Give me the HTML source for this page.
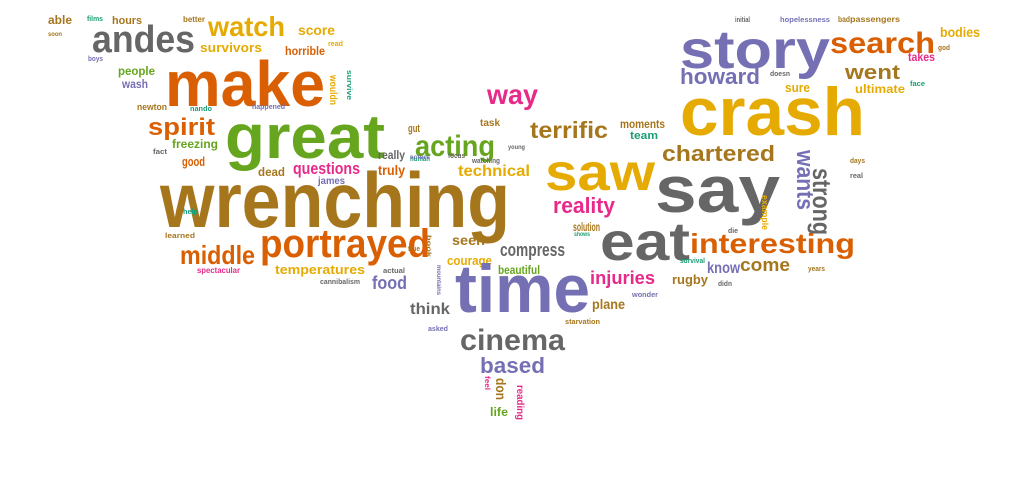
<!DOCTYPE html>
<html><head><meta charset="utf-8"><style>
html,body{margin:0;padding:0;background:#fff;width:1023px;height:504px;overflow:hidden}
svg text{font-family:"Liberation Sans",sans-serif;font-weight:bold}
</style></head><body>
<svg id="cloud" width="1023" height="504" viewBox="0 0 1023 504"></svg>
<script>
const palette = {br:"#A6761D",or:"#D95F02",gr:"#66A61E",pu:"#7570B3",gy:"#666666",go:"#E6AB02",pk:"#E7298A",te:"#1B9E77"};
const words = ["wrenching","make","great","andes","watch","score","survivors","horrible","hours","able","better","people","wash","newton","spirit","freezing","good","questions","dead","james","truly","really","acting","gut","way","task","terrific","technical","saw","reality","portrayed","middle","temperatures","seen","courage","compress","solution","beautiful","eat","time","food","think","cinema","based","injuries","plane","rugby","know","come","interesting","chartered","say","crash","story","search","howard","went","sure","moments","team","ultimate","takes","bodies","passengers","hopelessness","bad","initial","doesn","face","god","days","real","die","survival","years","didn","wonder","starvation","life","asked","cannibalism","actual","spectacular","learned","help","fact","watching","focus","human","young","happened","nando","read","boys","films","soon","shows","true","actors","strong","wants","example","reading","don","feel","wouldn","survive","book","mountains"];
const colors = ["br","or","gr","gy","go","go","go","or","br","br","br","gr","pu","br","or","gr","or","pk","br","pu","or","gy","gr","br","pk","br","br","go","go","pk","or","or","go","br","go","gy","br","gr","gy","pu","pu","gy","gy","pu","pk","br","br","pu","br","or","br","gy","go","pu","or","pu","br","go","br","te","go","pk","go","br","pu","br","gy","gy","te","br","br","gy","gy","te","br","gy","pu","br","gr","pu","gy","gy","pk","br","te","gy","gy","gy","te","gy","pu","te","go","pu","te","br","te","br","pu","gy","pu","go","pk","br","pk","go","te","br","pu"];
// layout: [x-left, baseline, width, fontSize, rotated]
const layout = [[160,227,350,78,0],[165,106,160,64,0],[225,158,160,62,0],[92,52,103,38,0],[208,36,77,28,0],[298,35,37,14,0],[200,52,62,13,0],[285,55,40,12,0],[112,24,30,11,0],[48,24,24,12,0],[183,22,22,8,0],[118,75,37,12,0],[122,88,26,12,0],[137,110,30,9,0],[148,135,67,24,0],[172,148,46,12,0],[182,166,23,13,0],[293,174,67,17,0],[258,176,27,12,0],[318,184,27,10,0],[378,175,27,14,0],[378,159,27,12,0],[415,156,80,30,0],[408,132,12,11,0],[487,104,51,28,0],[480,126,20,10,0],[530,138,78,23,0],[458,176,72,16,0],[545,190,110,52,0],[553,213,62,22,0],[260,257,170,40,0],[180,264,75,26,0],[275,274,90,13,0],[452,245,33,14,0],[447,265,45,13,0],[500,256,65,18,0],[573,231,27,12,0],[498,274,42,12,0],[600,260,90,54,0],[455,312,135,68,0],[372,289,35,18,0],[410,314,40,16,0],[460,350,105,30,0],[480,373,65,22,0],[590,284,65,18,0],[592,309,33,14,0],[672,284,36,13,0],[707,273,33,16,0],[740,271,50,18,0],[690,253,165,28,0],[662,161,113,22,0],[655,212,125,66,0],[680,135,185,68,0],[680,68,150,54,0],[830,53,105,30,0],[680,84,80,22,0],[845,79,55,20,0],[785,92,25,13,0],[620,128,45,12,0],[630,139,28,11,0],[855,93,50,12,0],[908,61,27,12,0],[940,37,40,14,0],[850,22,50,8,0],[780,22,50,7,0],[838,22,12,8,0],[735,22,15,7,0],[770,76,20,7,0],[910,86,15,7,0],[938,50,12,7,0],[850,163,15,7,0],[850,178,13,7,0],[728,233,10,7,0],[680,263,25,7,0],[808,271,17,7,0],[718,286,14,7,0],[632,297,26,7,0],[565,324,35,7,0],[490,416,18,12,0],[428,331,20,7,0],[320,284,40,7,0],[383,273,22,7,0],[197,273,43,8,0],[165,238,30,7,0],[183,214,15,7,0],[153,154,14,7,0],[472,163,28,7,0],[448,158,17,7,0],[410,161,20,7,0],[508,149,17,6,0],[252,109,33,7,0],[190,111,22,7,0],[328,46,15,7,0],[88,61,15,7,0],[87,21,16,7,0],[48,36,14,6,0],[574,236,16,6,0],[408,251,12,7,0],[410,159,20,6,0],[813,168,67,26,1],[797,150,60,24,1],[762,195,35,9,1],[517,385,35,10,1],[496,378,22,14,1],[485,376,14,7,1],[330,75,30,10,1],[347,70,30,7,1],[427,235,22,6,1],[437,265,30,6,1]];
const svg = document.getElementById('cloud');
const NS = "http://www.w3.org/2000/svg";
words.forEach((w,i)=>{
  const [x,y,len,fs,rot] = layout[i];
  const t = document.createElementNS(NS,'text');
  t.textContent = w;
  t.setAttribute('font-size', fs);
  t.setAttribute('fill', palette[colors[i]]);
  t.setAttribute('textLength', len);
  t.setAttribute('lengthAdjust','spacingAndGlyphs');
  if (rot) {
    t.setAttribute('x', 0); t.setAttribute('y', 0);
    t.setAttribute('transform', `translate(${x},${y}) rotate(90)`);
  } else {
    t.setAttribute('x', x); t.setAttribute('y', y);
  }
  
  
  svg.appendChild(t);
});
</script>
</body></html>
